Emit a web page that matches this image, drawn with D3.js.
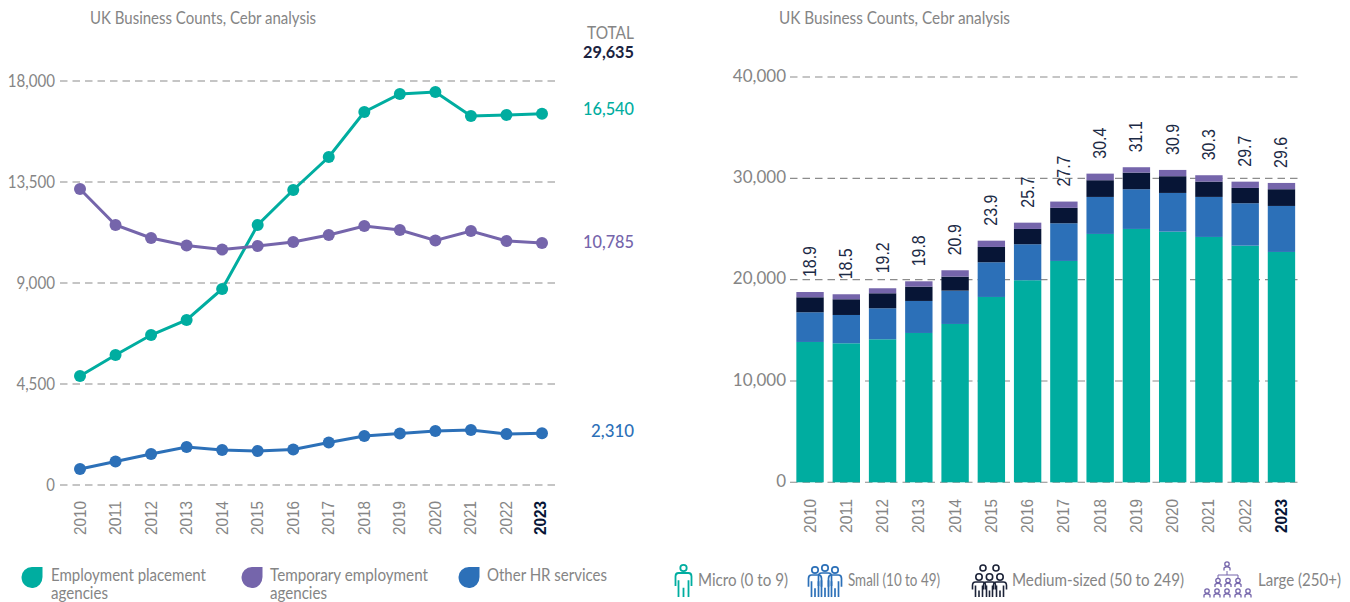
<!DOCTYPE html>
<html><head><meta charset="utf-8">
<script src="https://cdn.jsdelivr.net/npm/d3@7/dist/d3.min.js"></script>
<style>html,body{margin:0;padding:0;background:#fff}svg{display:block}</style>
</head><body><svg id="c" width="1350" height="602"></svg>
<script>
const years=[2010,2011,2012,2013,2014,2015,2016,2017,2018,2019,2020,2021,2022,2023];
const placement=[4857,5792,6683,7352,8733,11584,13144,14614,16619,17421,17510,16441,16485,16540];
const temporary=[13188,11584,11005,10670,10490,10650,10825,11140,11540,11360,10895,11317,10870,10785];
const otherHR=[710,1050,1380,1690,1560,1515,1580,1890,2180,2295,2405,2450,2270,2310];
const leftTicks=[0,4500,9000,13500,18000];
const rightTicks=[0,10000,20000,30000,40000];
const micro=[13850,13720,14116,14738,15627,18292,19941,21846,24511,25005,24738,24215,23356,22734];
const small=[2930,2794,3060,3160,3290,3425,3553,3720,3652,3920,3820,3950,4185,4540];
const medium=[1480,1550,1480,1410,1380,1510,1510,1520,1650,1640,1650,1510,1510,1650];
const large=[520,494,494,530,630,620,620,620,650,530,620,630,620,620];
const totals=["18.9","18.5","19.2","19.8","20.9","23.9","25.7","27.7","30.4","31.1","30.9","30.3","29.7","29.6"];
const TEAL="#00ada0",PURPLE="#7565ab",BLUE="#2c70b8",NAVY="#071536",GRAY="#858585";
const svg=d3.select("#c");
const fmt=d3.format(",");
const LAT="Lato, sans-serif",LIB="'Liberation Sans', Arial, sans-serif";
function txt(x,y,s,o={}){
  const t=svg.append("text").attr("x",x).attr("y",y+1.5).text(s)
   .attr("font-family",o.font||LAT).attr("font-size",o.size||16.5).attr("fill",o.fill||GRAY)
   .attr("text-anchor",o.anchor||"start").attr("font-weight",o.weight||400).attr("dominant-baseline","middle");
  if(o.len){t.attr("textLength",o.len).attr("lengthAdjust","spacingAndGlyphs");}
  return t;
}
function rot(x,y,s,o={}){
  const t=svg.append("text").attr("transform",`translate(${x},${y}) rotate(-90)`).text(s)
   .attr("font-family",LIB).attr("font-size",o.size||16).attr("fill",o.fill||GRAY)
   .attr("font-weight",o.weight||400).attr("text-anchor",o.anchor||"end").attr("dominant-baseline","central");
  if(o.len){t.attr("textLength",o.len).attr("lengthAdjust","spacingAndGlyphs");}
}
// LEFT
const xL=d3.scalePoint().domain(years).range([80,542]);
const yL=d3.scaleLinear().domain([0,18000]).range([485,81]);
leftTicks.forEach(t=>{
  svg.append("line").attr("x1",60).attr("x2",558).attr("y1",yL(t)).attr("y2",yL(t))
    .attr("stroke","#8c8c8c").attr("stroke-width",1.1).attr("stroke-dasharray","7.5 5");
  const s=fmt(t);
  txt(55,yL(t),s,{anchor:"end",size:17,len:s.replace(",","").length*8.65+(s.includes(",")?4:0)});
});
[[placement,TEAL],[temporary,PURPLE],[otherHR,BLUE]].forEach(([v,c])=>{
  const l=d3.line().x((d,i)=>xL(years[i])).y(d=>yL(d));
  svg.append("path").attr("d",l(v)).attr("fill","none").attr("stroke",c).attr("stroke-width",3);
  svg.append("g").selectAll("circle").data(v).join("circle")
    .attr("cx",(d,i)=>xL(years[i])).attr("cy",d=>yL(d)).attr("r",6).attr("fill",c);
});
years.forEach(y=>{const b=y===2023;rot(xL(y)+(b?-2:0),535,y,{fill:b?NAVY:GRAY,weight:b?700:400,anchor:"start",len:34});});
txt(634,33,"TOTAL",{anchor:"end",size:17,len:47});
txt(634,52.5,"29,635",{anchor:"end",size:17,weight:700,fill:"#1b2340",len:51});
txt(634,109,fmt(16540),{anchor:"end",size:18,fill:TEAL,weight:500,len:51});
txt(634,242,fmt(10785),{anchor:"end",size:18,fill:PURPLE,weight:500,len:51});
txt(634,431,fmt(2310),{anchor:"end",size:18,fill:BLUE,weight:500,len:43});
txt(90,18,"UK Business Counts, Cebr analysis",{len:226,size:17});
txt(779,18,"UK Business Counts, Cebr analysis",{len:231,size:17});
// RIGHT
const xR=d3.scaleBand().domain(years).range([792,1299.5]).paddingInner(0.245).paddingOuter(0.12);
const yR=d3.scaleLinear().domain([0,40000]).range([482.3,77]);
rightTicks.forEach(t=>{
  svg.append("line").attr("x1",790).attr("x2",1298).attr("y1",yR(t)).attr("y2",yR(t))
    .attr("stroke","#8c8c8c").attr("stroke-width",1.1).attr("stroke-dasharray","7.5 5");
  txt(786,yR(t)-1,fmt(t),{anchor:"end",size:17});
});
const rows=years.map((y,i)=>({year:y,micro:micro[i],small:small[i],medium:medium[i],large:large[i]}));
const keys=["micro","small","medium","large"],cols=[TEAL,BLUE,NAVY,PURPLE];
d3.stack().keys(keys)(rows).forEach((s,k)=>{
  svg.append("g").selectAll("rect").data(s).join("rect")
   .attr("x",d=>xR(d.data.year)).attr("width",xR.bandwidth())
   .attr("y",d=>yR(d[1])).attr("height",d=>yR(d[0])-yR(d[1])).attr("fill",cols[k]);
});
years.forEach((y,i)=>{
  const b=y===2023,top=micro[i]+small[i]+medium[i]+large[i];
  rot(xR(y)+xR.bandwidth()/2,yR(top)-15,totals[i],{size:18,fill:"#1c2a45",anchor:"start",len:31});
  rot(xR(y)+xR.bandwidth()/2,533,y,{fill:b?NAVY:GRAY,weight:b?700:400,anchor:"start",len:34});
});
// LEFT LEGEND
function drop(x,y,r,c){
  svg.append("path").attr("fill",c)
   .attr("d",`M${x-r},${y} A${r},${r*1.05} 0 0 0 ${x+r*0.1},${y+r*1.05} A${r},${r*1.05} 0 0 0 ${x+r},${y} L${x+r},${y-r*.95} L${x},${y-r*.95} A${r},${r*.95} 0 0 0 ${x-r},${y} Z`);
}
drop(32,577,10.5,TEAL);
txt(51,575,"Employment placement",{len:155});
txt(51,593,"agencies",{len:57});
drop(252,577,10.5,PURPLE);
txt(270,575,"Temporary employment",{len:158});
txt(270,593,"agencies",{len:57});
drop(469,577,10.5,BLUE);
txt(487,575,"Other HR services",{len:120});
// RIGHT LEGEND icons
function person(g,x,y,bw,foot,c,w){
  g.append("circle").attr("cx",x).attr("cy",y).attr("r",3.2).attr("fill","none").attr("stroke",c).attr("stroke-width",w);
  g.append("path").attr("fill","none").attr("stroke",c).attr("stroke-width",w).attr("stroke-linejoin","round")
   .attr("d",`M${x-bw},${y+foot*.62} V${y+8.5} Q${x-bw},${y+5} ${x-bw+3},${y+5} H${x+bw-3} Q${x+bw},${y+5} ${x+bw},${y+8.5} V${y+foot*.62} M${x-bw+3},${y+foot*.42} V${y+foot} M${x+bw-3},${y+foot*.42} V${y+foot} M${x},${y+foot*.68} V${y+foot}`);
}
let g=svg.append("g");
person(g,683.5,568,8,29,TEAL,1.8);
txt(698,580,"Micro (0 to 9)",{len:90});
g=svg.append("g");
person(g,815,570,6.5,27,BLUE,1.7);person(g,835,570,6.5,27,BLUE,1.7);person(g,825,568,6.5,29,BLUE,1.7);
txt(848,580,"Small (10 to 49)",{len:92});
g=svg.append("g");
const DK="#1c2338";
[983,996].forEach(x=>g.append("circle").attr("cx",x).attr("cy",568).attr("r",3).attr("fill","none").attr("stroke",DK).attr("stroke-width",1.6));
person(g,979,577,6.5,20,DK,1.6);person(g,1000,577,6.5,20,DK,1.6);person(g,989.5,577,6,20,DK,1.6);
txt(1012,580,"Medium-sized (50 to 249)",{len:172});
g=svg.append("g");
function mini(x,y){
  g.append("circle").attr("cx",x).attr("cy",y).attr("r",2.2).attr("fill","none").attr("stroke",PURPLE).attr("stroke-width",1.3);
  g.append("path").attr("d",`M${x-3},${y+6.5} V${y+4} Q${x},${y+1.5} ${x+3},${y+4} V${y+6.5}`).attr("fill","none").attr("stroke",PURPLE).attr("stroke-width",1.3);
}
mini(1227,564);
g.append("path").attr("d","M1227,571 V575 M1218,578 V575 H1238 V578").attr("fill","none").attr("stroke",PURPLE).attr("stroke-width",1);
[1218,1228,1238].forEach(x=>mini(x,580.5));
[1207,1217,1227,1238,1248].forEach(x=>mini(x,591));
txt(1258,580,"Large (250+)",{len:83});
</script></body></html>
